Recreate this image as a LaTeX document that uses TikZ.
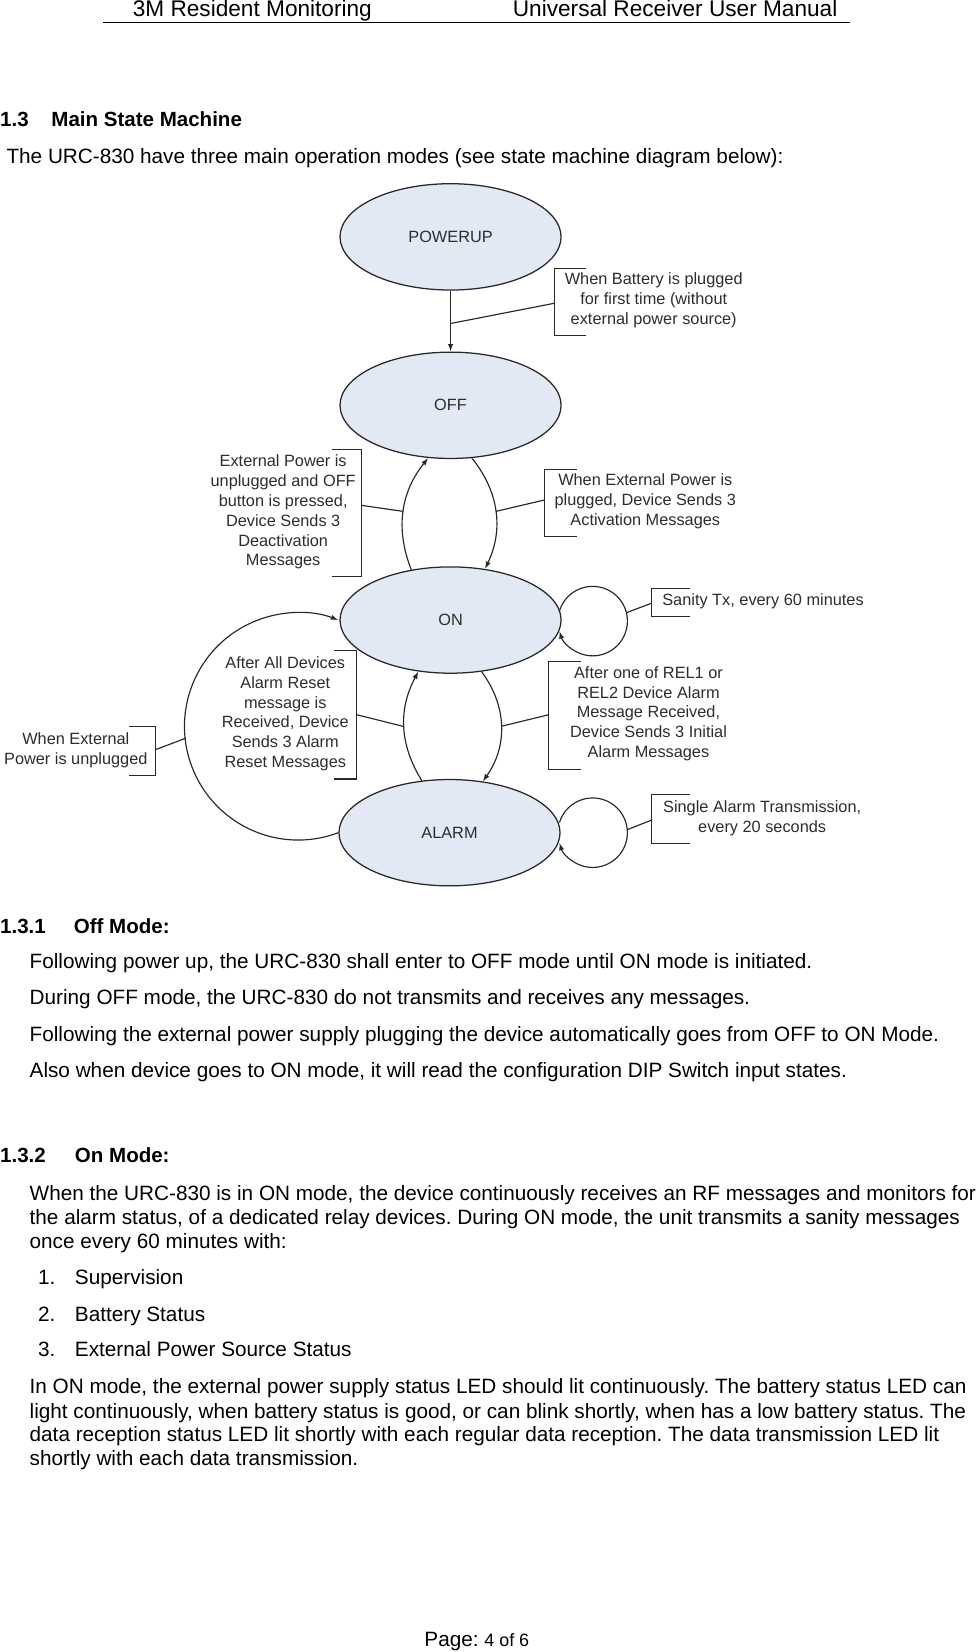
\documentclass[tikz,border=0pt]{standalone}
\usepackage{fontspec}
\setmainfont{Liberation Sans}
\usetikzlibrary{arrows.meta,shapes.geometric}
\definecolor{statefill}{RGB}{226,233,244}
\definecolor{linec}{RGB}{40,40,40}
\definecolor{textc}{RGB}{45,45,45}
\frenchspacing
\begin{document}
\frenchspacing
\begin{tikzpicture}[x=1pt,y=1pt,
  state/.style={ellipse,draw=linec,line width=1.2pt,fill=statefill,minimum width=210pt,minimum height=101pt,inner sep=0pt,font=\fontsize{15.5}{19}\selectfont,text=textc},
  lbl/.style={align=center,font=\fontsize{15.5}{18.8}\selectfont,text=textc,inner sep=0pt},
  body/.style={anchor=base west,inner sep=0pt,font=\fontsize{19.7}{23}\selectfont\frenchspacing},
  bhead/.style={anchor=base west,inner sep=0pt,font=\fontsize{19.5}{23}\selectfont\bfseries},
  conn/.style={draw=linec,line width=1.1pt},
  arr/.style={conn,-{Latex[length=7pt,width=5pt]}},
  brk/.style={draw=linec,line width=1.1pt}]
\useasboundingbox (0,0) rectangle (930,-1569.3);
% header
\node[anchor=base west,inner sep=0pt,font=\fontsize{21.5}{25}\selectfont] (h1) at (126,-16) {3M Resident Monitoring};
\node[anchor=base west,inner sep=0pt,font=\fontsize{21.5}{25}\selectfont] (h2) at (487,-16) {Universal Receiver User Manual};
\draw[line width=0.9pt] (98,-21) -- (807,-21);
\node[bhead] (s13n) at (0,-120) {1.3};
\node[bhead] (s13t) at (48.7,-120) {Main State Machine};
\node[body] (intro) at (6,-155) {The URC-830 have three main operation modes (see state machine diagram below):};
% states
\node[state] (pu) at (428,-225) {POWERUP};
\node[state] (off) at (428,-385) {OFF};
\node[state] (on) at (428,-589) {ON};
\node[state] (al) at (427,-791) {ALARM};
% powerup -> off
\draw[arr] (pu) -- coordinate[pos=0.54] (c1) (off);
\node[lbl] (t1) at (621,-285.5) {When Battery is plugged\\for first time (without\\external power source)};
\draw[brk] (557,-255) -- (527,-255) -- (527,-319) -- (557,-319);
\coordinate (b1) at (527,-288);
\draw[conn] (b1) -- (c1);
% on -> off
\draw[arr] (on.128) to[bend left=30] coordinate[pos=0.5] (c2) (off.247);
\node[lbl] (t2) at (269,-486.5) {External Power is\\unplugged and OFF\\button is pressed,\\Device Sends 3\\Deactivation\\Messages};
\draw[brk] (315,-427) -- (343,-427) -- (343,-548) -- (315,-548);
\coordinate (b2) at (343,-480);
\draw[conn] (b2) -- (c2);
% off -> on
\draw[arr] (off.292) to[bend left=32] coordinate[pos=0.5] (c3) (on.56);
\node[lbl] (t3) at (613,-476) {When External Power is\\plugged, Device Sends 3\\Activation Messages};
\draw[brk] (548,-446) -- (517,-446) -- (517,-510) -- (548,-510);
\coordinate (b3) at (517,-475);
\draw[conn] (b3) -- (c3);
% on self loop
\coordinate (l1) at (563,-590);
\draw[arr] ([shift={(163:33)}]l1) arc[start angle=163,end angle=-163,radius=33];
\node[lbl,anchor=west] (t4) at (629,-571) {Sanity Tx, every 60 minutes};
\draw[brk] (655,-559) -- (619,-559) -- (619,-586) -- (655,-586);
\coordinate (b4) at (619,-573);
\draw[conn] (b4) -- ([shift={(14:33)}]l1);
% alarm -> on
\draw[arr] (al.118) to[bend left=30] coordinate[pos=0.5] (c5) (on.238);
\node[lbl] (t6) at (271,-678) {After All Devices\\Alarm Reset\\message is\\Received, Device\\Sends 3 Alarm\\Reset Messages};
\draw[brk] (317,-618) -- (339,-618) -- (339,-740) -- (317,-740);
\coordinate (b6) at (339,-679);
\draw[conn] (b6) -- (c5);
% on -> alarm
\draw[arr] (on.301) to[bend left=36] coordinate[pos=0.5] (c6) (al.57);
\node[lbl] (t5) at (616,-678) {After one of REL1 or\\REL2 Device Alarm\\Message Received,\\Device Sends 3 Initial\\Alarm Messages};
\draw[brk] (552,-628) -- (521,-628) -- (521,-731) -- (552,-731);
\coordinate (b5) at (521,-679);
\draw[conn] (b5) -- (c6);
% alarm -> on big loop
\coordinate (bigc) at (283.8,-690);
\draw[arr] (al.west) arc[start angle=-69.3,end angle=-290.7,radius=108];
\node[lbl] (t7) at (72,-712.5) {When External\\Power is unplugged};
\draw[brk] (123,-690) -- (148,-690) -- (148,-737) -- (123,-737);
\coordinate (b7) at (148,-712);
\draw[conn] (b7) -- ([shift={(186:108)}]bigc);
% alarm self loop
\coordinate (l2) at (563,-791);
\draw[arr] ([shift={(163:33)}]l2) arc[start angle=163,end angle=-163,radius=33];
\node[lbl] (t8) at (724,-777) {Single Alarm Transmission,\\every 20 seconds};
\draw[brk] (655,-755) -- (619,-755) -- (619,-801) -- (655,-801);
\coordinate (b8) at (619,-779);
\draw[conn] (b8) -- ([shift={(5:33)}]l2);
% section 1.3.1
\node[bhead] (s131n) at (0,-887) {1.3.1};
\node[bhead] (s131t) at (70,-887) {Off Mode:};
\node[body] (p1) at (28,-920) {Following power up, the URC-830 shall enter to OFF mode until ON mode is initiated.};
\node[body] (p2) at (28,-954.5) {During OFF mode, the URC-830 do not transmits and receives any messages.};
\node[body] (p3) at (28,-989) {Following the external power supply plugging the device automatically goes from OFF to ON Mode.};
\node[body] (p4) at (28,-1023.5) {Also when device goes to ON mode, it will read the configuration DIP Switch input states.};
% section 1.3.2
\node[bhead] (s132n) at (0,-1104) {1.3.2};
\node[bhead] (s132t) at (71,-1104) {On Mode:};
\node[body] (q1) at (28,-1140) {When the URC-830 is in ON mode, the device continuously receives an RF messages and monitors for};
\node[body] (q2) at (28,-1163) {the alarm status, of a dedicated relay devices. During ON mode, the unit transmits a sanity messages};
\node[body] (q3) at (28,-1186) {once every 60 minutes with:};
\node[body] (n1) at (36,-1220) {1.};
\node[body] (i1) at (71,-1220) {Supervision};
\node[body] (n2) at (36,-1255) {2.};
\node[body] (i2) at (71,-1255) {Battery Status};
\node[body] (n3) at (36,-1289) {3.};
\node[body] (i3) at (71,-1289) {External Power Source Status};
\node[body] (r1) at (28,-1323.5) {In ON mode, the external power supply status LED should lit continuously. The battery status LED can};
\node[body] (r2) at (28,-1347) {light continuously, when battery status is good, or can blink shortly, when has a low battery status. The};
\node[body] (r3) at (28,-1369.5) {data reception status LED lit shortly with each regular data reception. The data transmission LED lit};
\node[body] (r4) at (28,-1392) {shortly with each data transmission.};
% footer
\node[body] (pg) at (403,-1564.5) {Page: {\fontsize{17}{20}\selectfont 4 of 6}};
\end{tikzpicture}
\end{document}
